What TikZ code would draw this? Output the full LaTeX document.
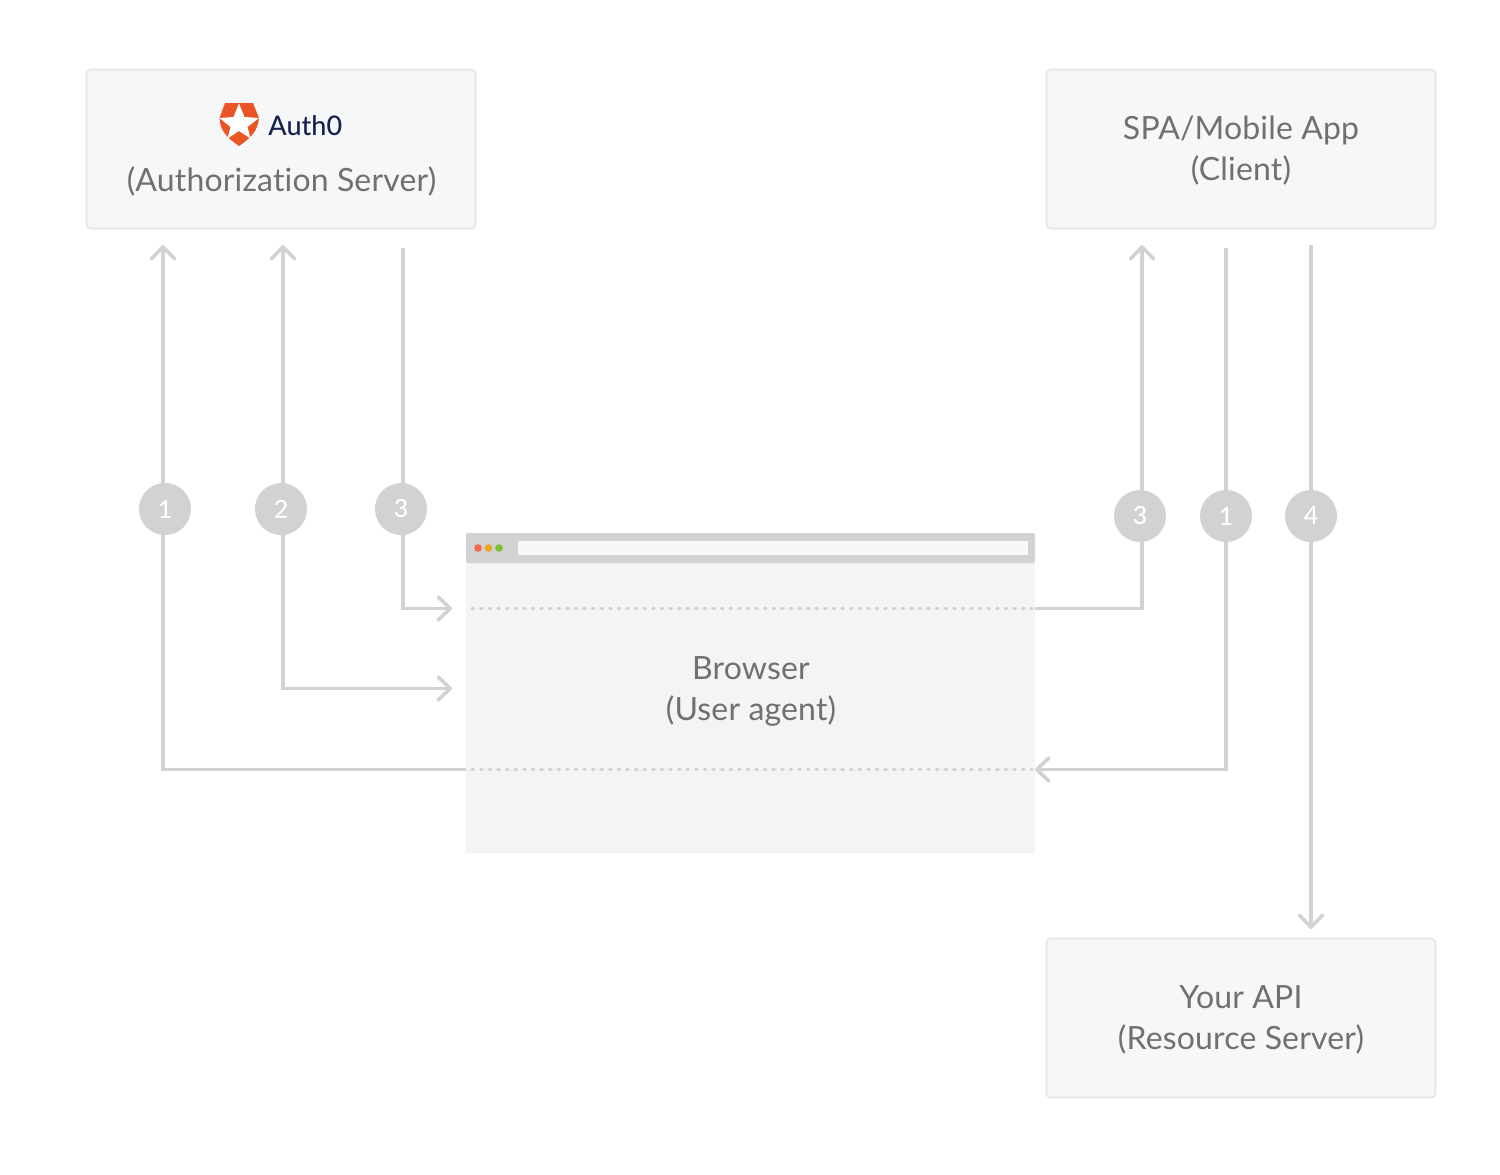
\documentclass[tikz,border=0pt]{standalone}
\usepackage{fontspec}
\setmainfont{Lato}[Ligatures=NoCommon, LetterSpace=0.5]
\newfontfamily\medfont{Lato Medium}
\usetikzlibrary{arrows.meta, positioning, calc}
\definecolor{linegray}{HTML}{D0D2D3}
\definecolor{boxfill}{HTML}{F5F7F9}
\definecolor{boxline}{HTML}{E3E5E7}
\definecolor{pagegray}{HTML}{F4F4F4}
\definecolor{txtgray}{HTML}{707070}
\definecolor{authred}{HTML}{EB5424}
\definecolor{authnavy}{HTML}{16214D}
\definecolor{dotred}{HTML}{F06A4A}
\definecolor{dotorange}{HTML}{EBA825}
\definecolor{dotgreen}{HTML}{7FC032}

\begin{document}
\begin{tikzpicture}[
    x=0.5pt, y=-0.5pt,
    font=\fontsize{16}{20.5}\selectfont,
    barb/.tip={Straight Barb[length=6pt, width=11.5pt, line width=1.8pt, round]},
    box/.style={draw=boxline, fill=boxfill, rounded corners=2pt, line width=0.8pt, minimum width=194.5pt,
                minimum height=79.5pt, align=center, text=txtgray, inner sep=0pt},
    page/.style={fill=pagegray, minimum width=284.5pt, minimum height=160pt, inner sep=0pt},
    lbl/.style={align=center, text=txtgray, inner sep=0pt},
    num/.style={circle, fill=linegray, text=white, minimum size=26pt, inner sep=0pt, font=\medfont\fontsize{12.5}{14}\selectfont},
    arr/.style={draw=linegray, line width=1.8pt, -barb},
    dots/.style={draw=linegray, line width=1.6pt, line cap=round, dash pattern=on 0.8pt off 3.5pt},
    dot/.style={circle, inner sep=0pt, minimum size=3.8pt}
]
\useasboundingbox (0,0) rectangle (1500,1174);

\node[box] (auth) at (281,149) {};
\node[lbl] (authtxt) at (281.5,181.5) {(Authorization Server)};
\node[box] (client) at (1241,149) {};
\node[lbl] (clienttxt) at (1241,151) {SPA/Mobile App\\(Client)};
\node[box] (api) at (1241,1018) {};
\node[lbl] (apitxt) at (1241,1020) {Your API\\(Resource Server)};

% logo
\fill[authred] (225,103) -- (253,103) -- (259,118) .. controls (258,130) and (252,137) .. (239,146) .. controls (226,137) and (220,130) .. (219.5,118) -- cycle;
\fill[white] (239,103.5) -- (244.5,117) -- (259,118) -- (247.5,127) -- (250.5,138.5) -- (239,131) -- (227.5,138.5) -- (230.5,127) -- (219.5,118) -- (233.5,117) -- cycle;
\node[anchor=west, text=authnavy, inner sep=0pt, font=\medfont\fontsize{13.5}{16}\selectfont] (logotxt) at (268,125.5) {Auth0};

\node[page] (browser) at (750.5,693) {};
\fill[linegray, rounded corners=1pt] (466,563) rectangle (1035,533);
\fill[boxfill] (518,541) rectangle (1028,555);
\node[dot, fill=dotred] (d1) at (478,548) {};
\node[dot, fill=dotorange] (d2) at (488.5,548) {};
\node[dot, fill=dotgreen] (d3) at (499,548) {};
\node[lbl] (browsertxt) at (751,691) {Browser\\(User agent)};

\coordinate (a1) at (163,245);
\coordinate (a1b) at (163,769.5);
\coordinate (a2) at (283,245);
\coordinate (a2b) at (283,688.5);
\coordinate (a2c) at (452,688.5);
\coordinate (a3) at (403,248);
\coordinate (a3b) at (403,608.5);
\coordinate (a3c) at (452,608.5);
\coordinate (p1) at (466,608.5);
\coordinate (p2) at (1035,608.5);
\coordinate (p3) at (466,769.5);
\coordinate (p4) at (1035,769.5);
\coordinate (c3) at (1142,245);
\coordinate (c3b) at (1142,608.5);
\coordinate (c1) at (1226,248);
\coordinate (c1b) at (1226,769.5);
\coordinate (c4) at (1311,245);
\coordinate (c4b) at (1311,929);

\draw[arr] (p3) -- (a1b) -- (a1);
\draw[arr, barb-barb] (a2) -- (a2b) -- (a2c);
\draw[arr] (a3) -- (a3b) -- (a3c);
\draw[dots] ($(p1)+(6,0)$) -- ($(p2)+(-3,0)$);
\draw[dots] ($(p3)+(6,0)$) -- ($(p4)+(-3,0)$);
\draw[arr] (p2) -- (c3b) -- (c3);
\draw[arr] (c1) -- (c1b) -- (p4);
\draw[arr] (c4) -- (c4b);

\node[num] (n1) at (165,509) {1};
\node[num] (n2) at (281,509) {2};
\node[num] (n3) at (401,509) {3};
\node[num] (m3) at (1140,516) {3};
\node[num] (m1) at (1226,516) {1};
\node[num] (m4) at (1311,516) {4};
\end{tikzpicture}
\end{document}
